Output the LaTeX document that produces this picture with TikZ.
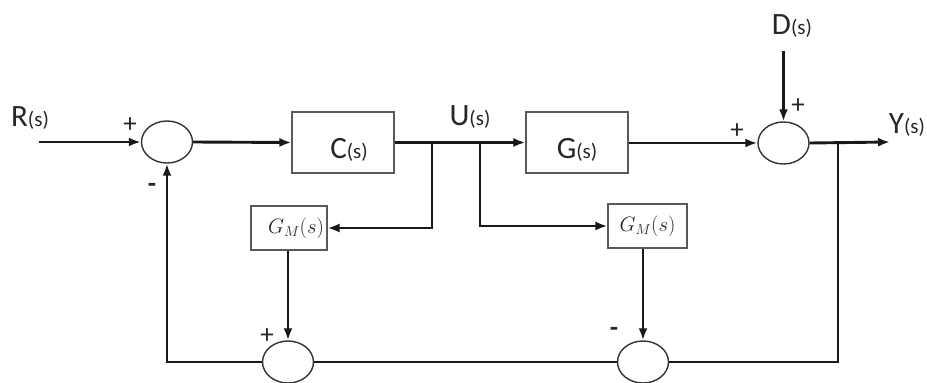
\documentclass[tikz,border=0pt]{standalone}
\usepackage{fontspec}
\setmainfont{Carlito}
\usetikzlibrary{arrows.meta,shapes.geometric}
\newcommand{\smallpar}[1]{{\fontsize{21}{21}\selectfont #1}}
\tikzset{
  sig/.style={line width=2.9pt, draw=black!90},
  arr/.style={sig, -{Latex[length=12pt,width=9pt]}},
  blk/.style={rectangle, draw=black!65, line width=1.1pt, fill=white, inner sep=0pt},
  sumj/.style={ellipse, draw=black!80, line width=1.4pt, fill=white, minimum width=51pt, minimum height=42pt, inner sep=0pt},
  sgn/.style={font=\fontsize{27}{27}\selectfont, inner sep=0pt, text=black!85},
  msgn/.style={font=\bfseries\fontsize{27}{27}\selectfont, inner sep=0pt, text=black!85},
  lbl/.style={anchor=base, inner sep=0pt, font=\fontsize{31}{31}\selectfont, text=black!85},
  gm/.style={font=\fontsize{20}{20}\selectfont, text=black!85}
}
\begin{document}
\begin{tikzpicture}[x=1pt,y=-1pt]
\fill[white] (0,0) rectangle (927,383);
\useasboundingbox (0,0) rectangle (927,383);

% blocks
\node[sumj] (s1) at (167,142) {};
\node[blk, minimum width=102pt, minimum height=61pt] (C) at (343,142.5) {};
\node[blk, minimum width=102pt, minimum height=61pt] (G) at (577,142.5) {};
\node[sumj] (s2) at (783.5,143) {};
\node[blk, minimum width=76pt, minimum height=44pt, text width=70pt, inner xsep=3pt, align=right, gm] (gm1) at (289,228) {$G_M(s)$};
\node[blk, minimum width=79pt, minimum height=44pt, gm] (gm2) at (647.5,226) {$G_M(s)$};
\node[sumj] (s3) at (288,362) {};
\node[sumj] (s4) at (643,362) {};

% labels
\node[lbl] (lR) at (30,126) {R\smallpar{(s)}};
\node[lbl] (lC) at (349,158) {C\smallpar{(s)}};
\node[lbl] (lU) at (470,125) {U\smallpar{(s)}};
\node[lbl] (lG) at (577,158) {G\smallpar{(s)}};
\node[lbl] (lD) at (792,34) {D\smallpar{(s)}};
\node[lbl] (lY) at (907,133) {Y\smallpar{(s)}};

% signs
\node[sgn] (p1) at (130,125) {+};
\node[msgn] (m1) at (152,188) {-};
\node[sgn] (p2) at (737,131) {+};
\node[sgn] (p3) at (798,106) {+};
\node[sgn] (p4) at (267,336) {+};
\node[msgn] (m4) at (614,332) {-};

% coordinates
\coordinate (in) at (39,142);
\coordinate (b1) at (432,142);
\coordinate (b2) at (480,142);
\coordinate (dtop) at (783.5,51);
\coordinate (out) at (890,142);
\coordinate (fb) at (838,142);

% connectors
\draw[arr] (in) -- (s1.west);
\draw[arr] (s1.east) -- (C.west);
\draw[arr] (C.east) -- (G.west);
\draw[arr] (G.east |- s2.west) -- (s2.west);
\draw[arr] (dtop) -- (s2.north);
\draw[arr] (s2.east) -- (out);
\draw[arr] (b1) |- (gm1.east);
\draw[arr] (b2) |- (gm2.west);
\draw[arr] (gm1.south -| s3.north) -- (s3.north);
\draw[arr] (gm2.south -| s4.north) -- (s4.north);
\draw[sig] (fb) |- (s4.east);
\draw[sig] (s4.west) -- (s3.east);
\draw[arr] (s3.west) -| (s1.south);
\end{tikzpicture}
\end{document}
